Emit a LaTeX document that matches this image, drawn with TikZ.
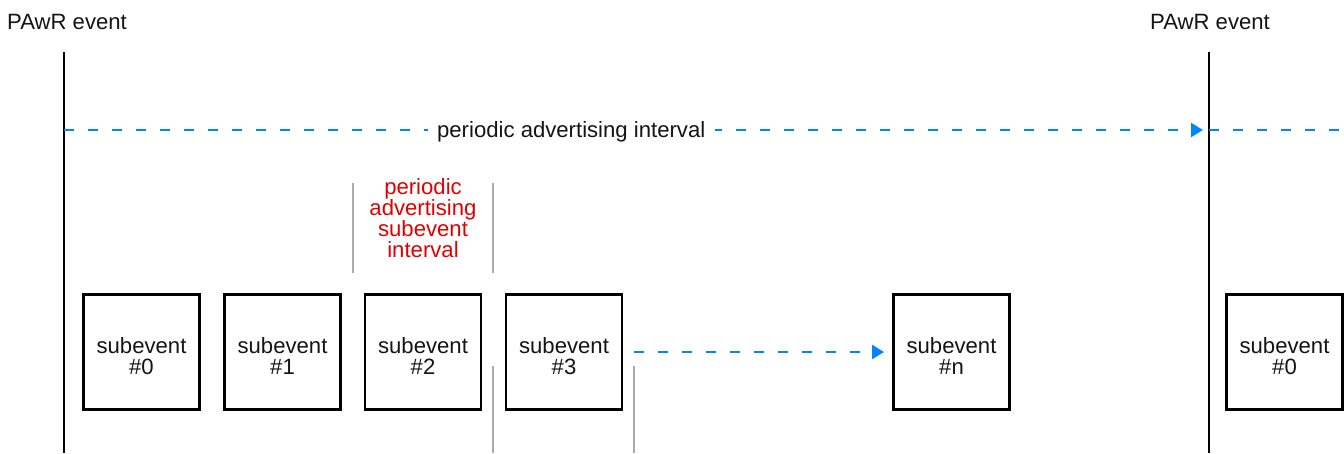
\documentclass[tikz,border=0pt]{standalone}
\usepackage{fontspec}
\setmainfont{Liberation Sans}
\usetikzlibrary{arrows.meta}
\definecolor{pblue}{RGB}{0,132,255}
\definecolor{pred}{RGB}{225,0,0}
\definecolor{tickgray}{RGB}{172,172,172}
\newcommand{\boxstrut}{\rule{0pt}{18.5pt}}
\begin{document}
\begin{tikzpicture}[x=0.75pt,y=-0.75pt,
  every node/.style={font=\fontsize{16.6}{15.9}\selectfont, text=black!92},
  subev/.style={draw=black, line width=2.2pt, minimum width=87pt,
    minimum height=86.5pt, align=center, inner sep=0pt},
  evline/.style={line width=1.8pt, black},
  period/.style={pblue, line width=1.5pt, dash pattern=on 7.5pt off 10.5pt},
  tipped/.style={-{Triangle[length=9pt,width=10.5pt]}},
  tick/.style={tickgray, line width=0.9pt}]
\useasboundingbox (0,0) rectangle (1344,453);

% PAwR event markers
\coordinate (evLtop) at (64,52);  \coordinate (evLbot) at (64,453);
\coordinate (evRtop) at (1209,52); \coordinate (evRbot) at (1209,453);
\draw[evline] (evLtop) -- (evLbot);
\draw[evline] (evRtop) -- (evRbot);
\node (evLlab) at (67,22) {PAwR event};
\node (evRlab) at (1210,22) {PAwR event};

% periodic advertising interval
\coordinate (pL) at (64,130);
\coordinate (pR) at (1209,130);
\coordinate (pEnd) at (1344,130);
\draw[period, tipped, shorten >=4.5pt] (pL) --
  node[pos=0.443, yshift=-1pt, fill=white, inner xsep=7pt, inner ysep=2pt] (pai)
  {periodic advertising interval} (pR);
\draw[period] (pR) -- (pEnd);

% subevents
\node[subev] (s0) at (141.5,352) {\boxstrut subevent\\\#0};
\node[subev] (s1) at (282.5,352) {\boxstrut subevent\\\#1};
\node[subev] (s2) at (423,352)   {\boxstrut subevent\\\#2};
\node[subev] (s3) at (564,352)   {\boxstrut subevent\\\#3};
\node[subev] (sn) at (951.5,352) {\boxstrut subevent\\\#n};
\node[subev] (s0b) at (1284.5,352) {\boxstrut subevent\\\#0};

% subevent interval
\node[text=pred, align=center] (psi) at (423,218)
  {periodic\\advertising\\subevent\\interval};
\draw[tick] (353,183) -- (353,273);
\draw[tick] (493,183) -- (493,273);
\draw[tick] (493,366) -- (493,453);
\draw[tick] (634,366) -- (634,453);

% remaining subevents
\draw[period, tipped, shorten >=6pt] ([xshift=8.25pt]s3.east) -- (sn.west);
\end{tikzpicture}
\end{document}
